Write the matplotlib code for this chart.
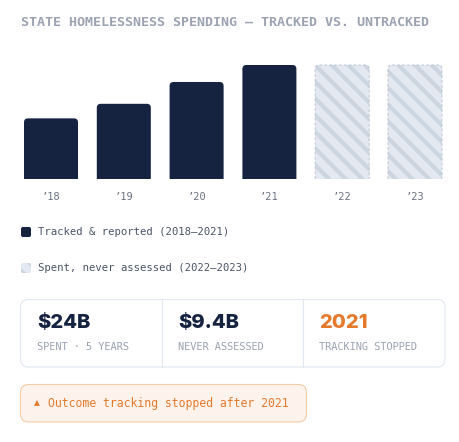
import matplotlib.pyplot as plt
from matplotlib.path import Path
from matplotlib.patches import PathPatch, FancyBboxPatch

# data
years = ["\u201918", "\u201919", "\u201920", "\u201921", "\u201922", "\u201923"]
tracked = [2.5, 3.1, 4.0, 4.7]       # $B, 2018-2021
untracked = [4.7, 4.7]               # $B, 2022-2023 (never assessed)
stat_values = ["$24B", "$9.4B", "2021"]
stat_labels = ["SPENT \u00b7 5 YEARS", "NEVER ASSESSED", "TRACKING STOPPED"]

NAVY = "#152340"
ORANGE = "#e57a2c"
MONO = "DejaVu Sans Mono"

W, H = 460, 442
fig = plt.figure(figsize=(W / 100, H / 100), dpi=100)
fig.patch.set_facecolor("white")

# bar axes, placed in pixels
ax_l, ax_r, ax_top, ax_bot = 14.6, 451.4, 65, 179
ax = fig.add_axes([ax_l / W, 1 - ax_bot / H, (ax_r - ax_l) / W, (ax_bot - ax_top) / H])
ymax = max(tracked + untracked)
ax.set_xlim(-0.5, len(years) - 0.5)
ax.set_ylim(0, ymax)
for s in ax.spines.values():
    s.set_visible(False)
ax.set_yticks([])
ax.set_xticks(range(len(years)))
ax.set_xticklabels(years, fontfamily=MONO, fontsize=7.5, color="#6b7280")
ax.tick_params(axis="x", length=0, pad=9)
ax.patch.set_alpha(0)

# radius in data units (4 px)
rx = 4 * len(years) / (ax_r - ax_l)
ry = 4 * ymax / (ax_bot - ax_top)
bw = 0.742


def top_rounded(xc, h, closed=True):
    x0, x1 = xc - bw / 2, xc + bw / 2
    verts = [(x0, 0), (x0, h - ry), (x0, h), (x0 + rx, h), (x1 - rx, h),
             (x1, h), (x1, h - ry), (x1, 0)]
    codes = [Path.MOVETO, Path.LINETO, Path.CURVE3, Path.CURVE3, Path.LINETO,
             Path.CURVE3, Path.CURVE3, Path.LINETO]
    if closed:
        verts.append((x0, 0))
        codes.append(Path.CLOSEPOLY)
    return Path(verts, codes)


plt.rcParams["hatch.linewidth"] = 3.0
for i, v in enumerate(tracked):
    ax.add_patch(PathPatch(top_rounded(i, v), facecolor=NAVY, edgecolor="none", clip_on=False))
for j, v in enumerate(untracked):
    i = len(tracked) + j
    ax.add_patch(PathPatch(top_rounded(i, v), facecolor="#e4e9f1", edgecolor="#cdd5e1",
                           hatch="\\\\", linewidth=0, clip_on=False))
    ax.add_patch(PathPatch(top_rounded(i, v, closed=False), fill=False, edgecolor="#bcc6d4",
                           linewidth=0.7, linestyle=(0, (3, 2)), clip_on=False))

# overlay axes in pixel coordinates for everything else
ov = fig.add_axes([0, 0, 1, 1], zorder=-1)
ov.set_xlim(0, W)
ov.set_ylim(H, 0)
ov.axis("off")

ov.text(21, 23, "STATE HOMELESSNESS SPENDING \u2014 TRACKED VS. UNTRACKED", fontfamily=MONO,
        fontsize=9.6, fontweight="bold", color="#9ba2b2", va="center", ha="left")

# legend
ov.add_patch(FancyBboxPatch((21, 227), 10, 10, boxstyle="round,pad=0,rounding_size=2",
                            facecolor=NAVY, edgecolor="none"))
ov.text(38, 232, "Tracked & reported (2018\u20132021)", fontfamily=MONO, fontsize=7.7,
        color="#4b5565", va="center")
ov.add_patch(FancyBboxPatch((21, 263), 10, 10, boxstyle="round,pad=0,rounding_size=2",
                            facecolor="#e4e9f1", edgecolor="#cdd5e1", linewidth=0, hatch="\\\\"))
ov.text(38, 268, "Spent, never assessed (2022\u20132023)", fontfamily=MONO, fontsize=7.7,
        color="#4b5565", va="center")

# stats card
ov.add_patch(FancyBboxPatch((20.5, 299.5), 424.5, 67.5, boxstyle="round,pad=0,rounding_size=8",
                            facecolor="white", edgecolor="#e2e8f0", linewidth=0.8))
for xd in [162, 303]:
    ov.plot([xd, xd], [300, 367], color="#e2e8f0", lw=0.8)
col_x = [37, 178, 319]
for k in range(3):
    ov.text(col_x[k], 323, stat_values[k], fontfamily="Inter", fontweight="heavy", fontsize=14.5,
            color=ORANGE if k == 2 else NAVY, va="center", ha="left")
    ov.text(col_x[k], 347, stat_labels[k], fontfamily=MONO, fontsize=7.4, color="#9aa2b1",
            va="center", ha="left")

# alert
ov.add_patch(FancyBboxPatch((20.5, 384.5), 286, 37.5, boxstyle="round,pad=0,rounding_size=8",
                            facecolor="#fdf3ec", edgecolor="#f6cba7", linewidth=0.8))
ov.text(34, 403, "\u25b2", fontfamily="DejaVu Sans", fontsize=5.5, color=ORANGE, va="center")
ov.text(48, 403, "Outcome tracking stopped after 2021", fontfamily=MONO, fontsize=8.3,
        color=ORANGE, va="center", ha="left")

fig.savefig("out.png", dpi=100)
